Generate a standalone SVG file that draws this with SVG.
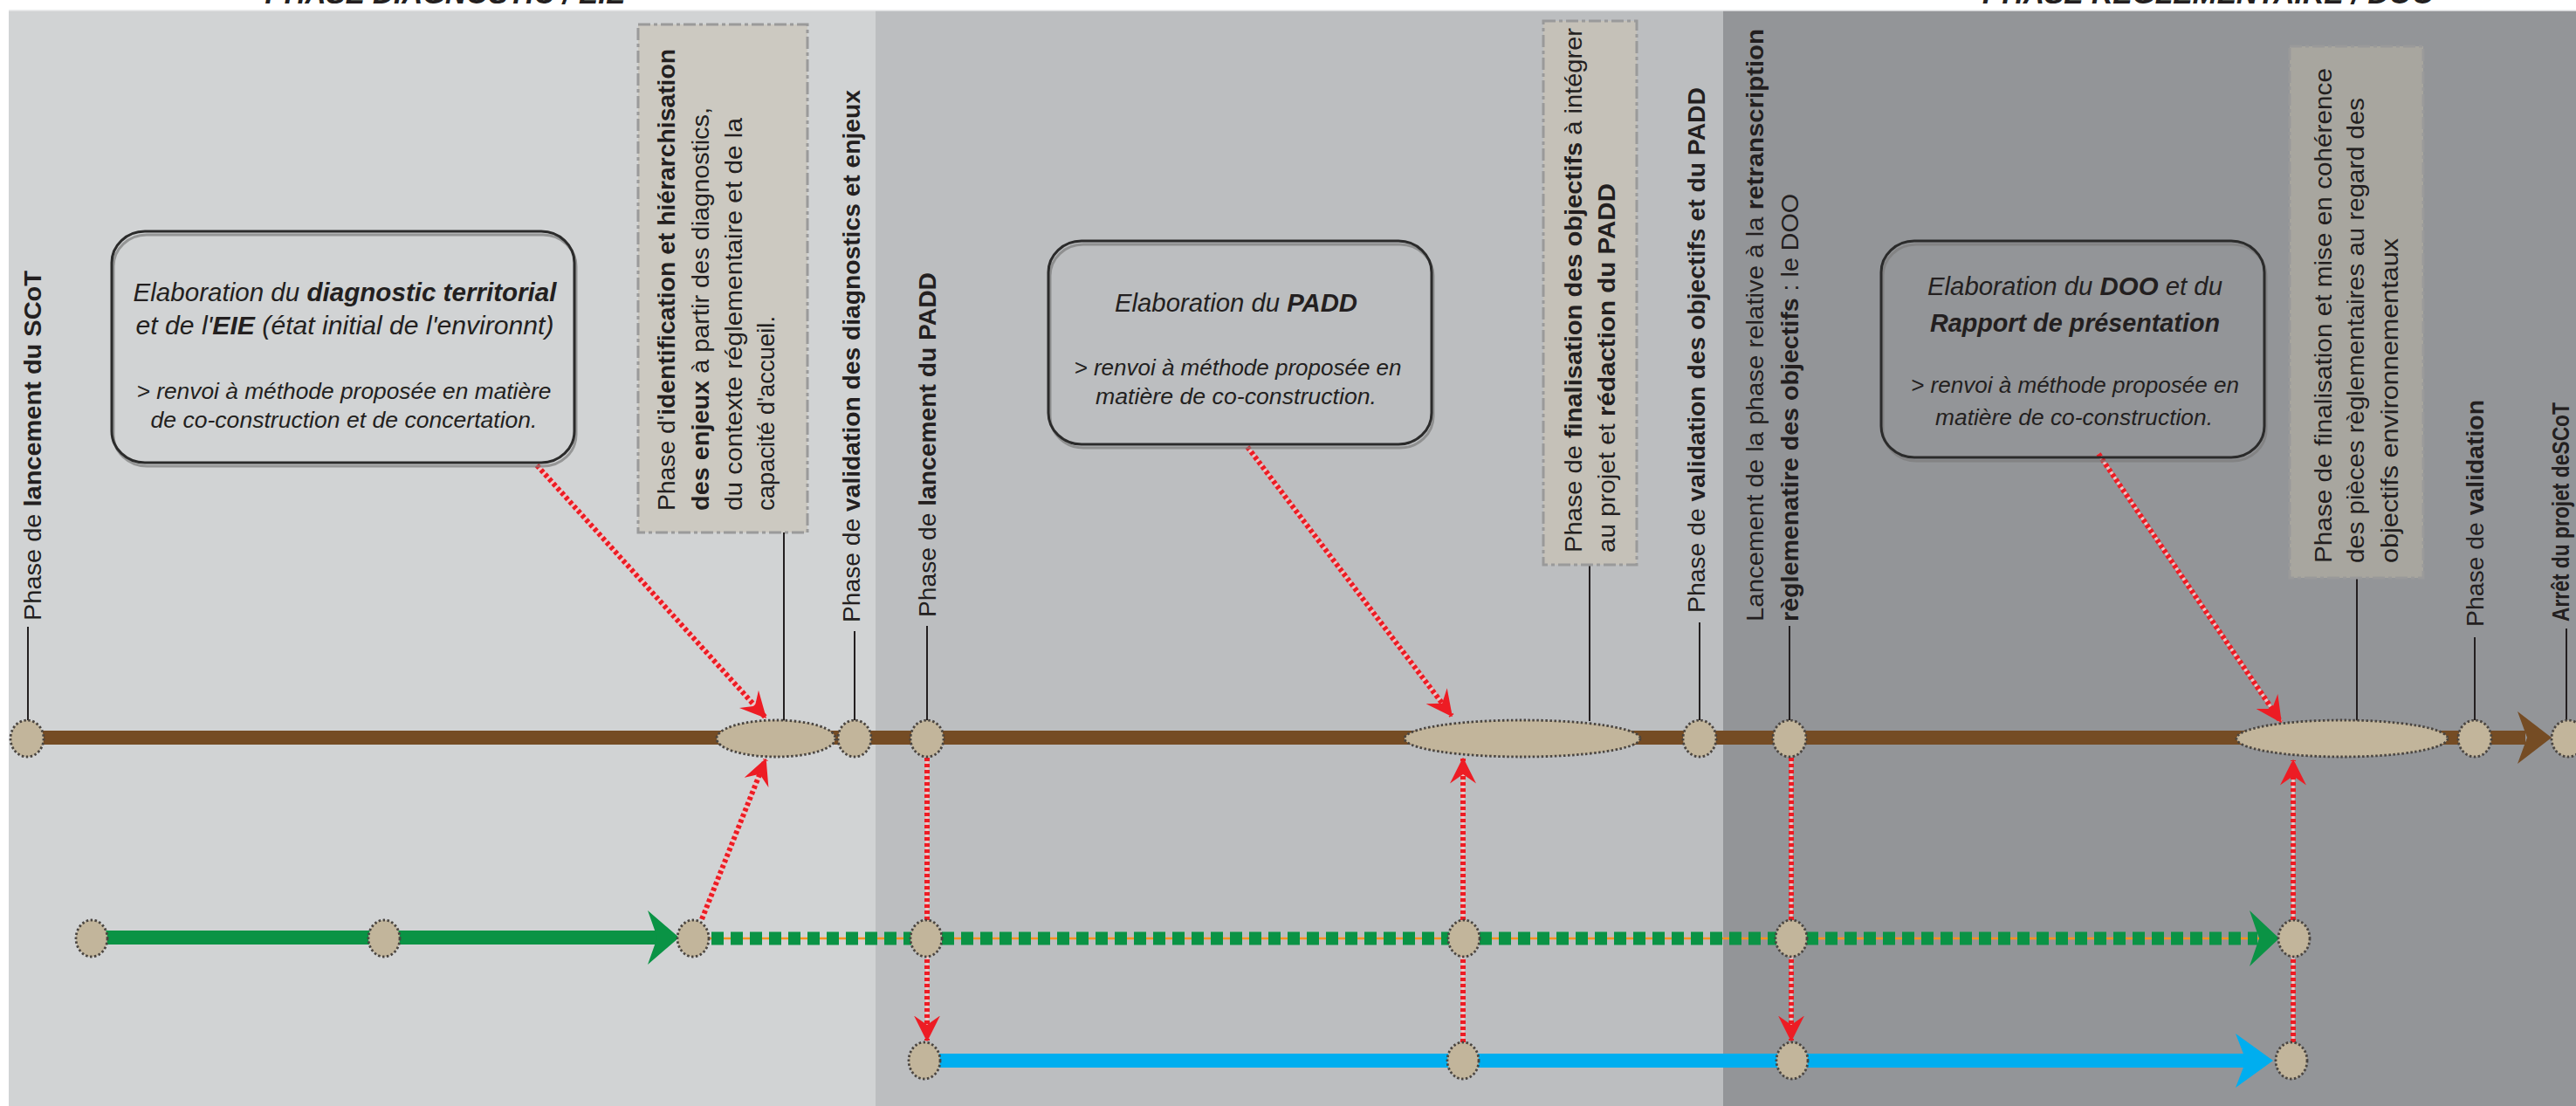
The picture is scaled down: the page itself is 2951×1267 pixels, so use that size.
<svg xmlns="http://www.w3.org/2000/svg" width="2951" height="1267" viewBox="0 0 2951 1267">
<style>
.lb{font-family:"Liberation Sans",Arial,sans-serif;font-size:28px;fill:#231f20}
.b{font-weight:bold}
.ct{font-family:"Liberation Sans",Arial,sans-serif;font-style:italic;fill:#231f20;text-anchor:middle}
.h1{font-size:29px}
.h2{font-size:26px}
.hd{font-family:"Liberation Sans",Arial,sans-serif;font-style:italic;font-weight:bold;font-size:34px;fill:#231f20;text-anchor:middle}
.nd{fill:#c2b59b;stroke:#4a4540;stroke-width:2.8;stroke-dasharray:2.5 2.5}
.ld{stroke:#231f20;stroke-width:2;fill:none}
.bx{stroke:#9a9a9a;stroke-width:3;stroke-dasharray:14 4 4 4}
.co{fill:none;stroke:#2b2b2b;stroke-width:3}
.cs{fill:none;stroke:#7c7c7c;stroke-width:3;opacity:0.7}
.rdu{stroke:#f7c3c4;stroke-width:3.5;fill:none}
.rd{stroke:#ed1c24;stroke-width:6;stroke-dasharray:4 3;fill:none;marker-end:url(#ar)}
</style>
<defs>
<marker id="ar" viewBox="0 0 20 20" refX="19" refY="10" markerWidth="30" markerHeight="30" markerUnits="userSpaceOnUse" orient="auto">
<path d="M0,0 L20,10 L0,20 L7,10 z" fill="#ed1c24"/>
</marker>
</defs>
<rect x="0" y="0" width="2951" height="1267" fill="#ffffff"/>
<g id="panels">
<rect x="10" y="12" width="993" height="1255" fill="#d1d3d4"/>
<rect x="1003" y="12" width="971" height="1255" fill="#bcbec0"/>
<rect x="1974" y="12" width="977" height="1255" fill="#939598"/>
<line x1="10" y1="12" x2="2951" y2="12" stroke="#e6e7e8" stroke-width="1.5"/>
</g>
<g id="headers">
<text class="hd" x="510" y="4" textLength="413" lengthAdjust="spacingAndGlyphs">PHASE DIAGNOSTIC / EIE</text>
<text class="hd" x="2530" y="4" textLength="518" lengthAdjust="spacingAndGlyphs">PHASE REGLEMENTAIRE / DOO</text>
</g>
<g id="connectors">
<line class="ld" x1="32" y1="718" x2="32" y2="826"/>
<line class="ld" x1="898" y1="610" x2="898" y2="826"/>
<line class="ld" x1="979" y1="723" x2="979" y2="826"/>
<line class="ld" x1="1062" y1="717" x2="1062" y2="826"/>
<line class="ld" x1="1821" y1="647" x2="1821" y2="826"/>
<line class="ld" x1="1947" y1="713" x2="1947" y2="826"/>
<line class="ld" x1="2050" y1="717" x2="2050" y2="826"/>
<line class="ld" x1="2700" y1="662" x2="2700" y2="826"/>
<line class="ld" x1="2835" y1="730" x2="2835" y2="826"/>
<line class="ld" x1="2940" y1="720" x2="2940" y2="826"/>
<line x1="31" y1="845" x2="2893" y2="845" stroke="#754c24" stroke-width="16"/>
<polygon points="2884,815 2923,845 2884,875 2895,845" fill="#754c24"/>
<line x1="105" y1="1074" x2="764" y2="1074" stroke="#0a9345" stroke-width="16"/>
<polygon points="742,1043 778,1074 742,1105 753,1074" fill="#0a9345"/>
<line x1="813" y1="1075" x2="2590" y2="1075" stroke="#f7941d" stroke-width="2.5"/>
<line x1="815" y1="1075" x2="2586" y2="1075" stroke="#0a9345" stroke-width="15" stroke-dasharray="14 8"/>
<polygon points="2577,1043 2611,1075 2577,1107 2588,1075" fill="#0a9345"/>
<line x1="1062" y1="1215" x2="2590" y2="1215" stroke="#00aeef" stroke-width="16"/>
<polygon points="2561,1184 2604,1215 2561,1246 2573,1215" fill="#00aeef"/>
<path class="rdu" d="M615,533 L877,822"/><path class="rd" d="M615,533 L877,822"/>
<path class="rdu" d="M1429,512 L1663,820"/><path class="rd" d="M1429,512 L1663,820"/>
<path class="rdu" d="M2404,520 L2613,827"/><path class="rd" d="M2404,520 L2613,827"/>
<path class="rdu" d="M804,1053 L877,870"/><path class="rd" d="M804,1053 L877,870"/>
<path class="rdu" d="M1062,868 L1062,1192"/><path class="rd" d="M1062,868 L1062,1192"/>
<path class="rdu" d="M1676,1194 L1676,869"/><path class="rd" d="M1676,1194 L1676,869"/>
<path class="rdu" d="M2052,868 L2052,1192"/><path class="rd" d="M2052,868 L2052,1192"/>
<path class="rdu" d="M2627,1194 L2627,871"/><path class="rd" d="M2627,1194 L2627,871"/>
</g>
<g id="main-nodes">
<ellipse id="n-lancement-scot" class="nd" cx="31" cy="846" rx="19" ry="21"/>
<ellipse id="n-ident" class="nd" cx="889" cy="846" rx="68" ry="21"/>
<ellipse id="n-valid-diag" class="nd" cx="979" cy="846" rx="19" ry="21"/>
<ellipse id="n-lancement-padd" class="nd" cx="1062" cy="846" rx="19" ry="21"/>
<ellipse id="n-final-padd" class="nd" cx="1744" cy="846" rx="135" ry="21"/>
<ellipse id="n-valid-padd" class="nd" cx="1947" cy="846" rx="19" ry="21"/>
<ellipse id="n-lancement-doo" class="nd" cx="2050" cy="846" rx="19" ry="21"/>
<ellipse id="n-final-doo" class="nd" cx="2683" cy="846" rx="121" ry="21"/>
<ellipse id="n-validation" class="nd" cx="2835" cy="846" rx="19" ry="21"/>
<ellipse id="n-arret" class="nd" cx="2942" cy="846" rx="19" ry="21"/>
</g>
<g id="green-nodes">
<ellipse class="nd" cx="105" cy="1075" rx="18" ry="21"/>
<ellipse class="nd" cx="440" cy="1075" rx="18" ry="21"/>
<ellipse class="nd" cx="794" cy="1075" rx="18" ry="21"/>
<ellipse class="nd" cx="1061" cy="1075" rx="18" ry="21"/>
<ellipse class="nd" cx="1677" cy="1075" rx="18" ry="21"/>
<ellipse class="nd" cx="2052" cy="1075" rx="18" ry="21"/>
<ellipse class="nd" cx="2628" cy="1075" rx="18" ry="21"/>
</g>
<g id="blue-nodes">
<ellipse class="nd" cx="1059" cy="1215" rx="18" ry="21"/>
<ellipse class="nd" cx="1676" cy="1215" rx="18" ry="21"/>
<ellipse class="nd" cx="2053" cy="1215" rx="18" ry="21"/>
<ellipse class="nd" cx="2625" cy="1215" rx="18" ry="21"/>
</g>
<g id="label-lancement-scot">
<text class="lb" transform="translate(47,711) rotate(-90)" textLength="401" lengthAdjust="spacingAndGlyphs">Phase de <tspan class="b">lancement du SCoT</tspan></text>
</g>
<g id="box-identification">
<rect class="bx" x="731" y="28" width="194" height="582" fill="#ccc9c1"/>
<text class="lb" transform="translate(773,585) rotate(-90)" textLength="529" lengthAdjust="spacingAndGlyphs">Phase d'<tspan class="b">identification et hiérarchisation</tspan></text>
<text class="lb" transform="translate(812,585) rotate(-90)" textLength="462" lengthAdjust="spacingAndGlyphs"><tspan class="b">des enjeux</tspan> à partir des diagnostics,</text>
<text class="lb" transform="translate(850,585) rotate(-90)" textLength="450" lengthAdjust="spacingAndGlyphs">du contexte réglementaire et de la</text>
<text class="lb" transform="translate(887,585) rotate(-90)" textLength="223" lengthAdjust="spacingAndGlyphs">capacité d'accueil.</text>
</g>
<g id="label-valid-diag">
<text class="lb" transform="translate(985,713) rotate(-90)" textLength="610" lengthAdjust="spacingAndGlyphs">Phase de <tspan class="b">validation des diagnostics et enjeux</tspan></text>
</g>
<g id="label-lancement-padd">
<text class="lb" transform="translate(1072,707) rotate(-90)" textLength="395" lengthAdjust="spacingAndGlyphs">Phase de <tspan class="b">lancement du PADD</tspan></text>
</g>
<g id="box-finalisation-padd">
<rect class="bx" x="1768" y="24" width="107" height="623" fill="#c5c1b8"/>
<text class="lb" transform="translate(1812,633) rotate(-90)" textLength="601" lengthAdjust="spacingAndGlyphs">Phase de <tspan class="b">finalisation des objectifs</tspan>  à intégrer</text>
<text class="lb" transform="translate(1850,633) rotate(-90)" textLength="423" lengthAdjust="spacingAndGlyphs">au projet et <tspan class="b">rédaction du PADD</tspan></text>
</g>
<g id="label-valid-padd">
<text class="lb" transform="translate(1953,702) rotate(-90)" textLength="602" lengthAdjust="spacingAndGlyphs">Phase de <tspan class="b">validation des objectifs et du PADD</tspan></text>
</g>
<g id="label-lancement-doo">
<text class="lb" transform="translate(2020,712) rotate(-90)" textLength="679" lengthAdjust="spacingAndGlyphs">Lancement de la phase relative à la <tspan class="b">retranscription</tspan></text>
<text class="lb" transform="translate(2060,712) rotate(-90)" textLength="490" lengthAdjust="spacingAndGlyphs"><tspan class="b">règlemenatire des objectifs</tspan> : le DOO</text>
</g>
<g id="box-finalisation-doo">
<rect class="bx" x="2623" y="53" width="153" height="609" fill="#a8a69f"/>
<text class="lb" transform="translate(2671,645) rotate(-90)" textLength="567" lengthAdjust="spacingAndGlyphs">Phase de finalisation et mise en cohérence</text>
<text class="lb" transform="translate(2708,645) rotate(-90)" textLength="533" lengthAdjust="spacingAndGlyphs">des pièces règlementaires au regard des</text>
<text class="lb" transform="translate(2747,645) rotate(-90)" textLength="372" lengthAdjust="spacingAndGlyphs">objectifs environnementaux</text>
</g>
<g id="label-validation">
<text class="lb" transform="translate(2845,718) rotate(-90)" textLength="260" lengthAdjust="spacingAndGlyphs">Phase de <tspan class="b">validation</tspan></text>
</g>
<g id="label-arret">
<text class="lb b" transform="translate(2943,712) rotate(-90)" textLength="251" lengthAdjust="spacingAndGlyphs">Arrêt du projet deSCoT</text>
</g>
<g id="callout-diagnostic">
<rect class="cs" x="130" y="269" width="530" height="265" rx="38" ry="36"/>
<rect class="co" x="128" y="265" width="530" height="265" rx="38" ry="36"/>
<text class="ct h1" x="395" y="345" textLength="485" lengthAdjust="spacingAndGlyphs">Elaboration du <tspan class="b">diagnostic territorial</tspan></text>
<text class="ct h1" x="395" y="383" textLength="479" lengthAdjust="spacingAndGlyphs">et de l'<tspan class="b">EIE</tspan> (état initial de l'environnt)</text>
<text class="ct h2" x="394" y="457" textLength="475" lengthAdjust="spacingAndGlyphs">&gt; renvoi à méthode proposée en matière</text>
<text class="ct h2" x="394" y="490" textLength="443" lengthAdjust="spacingAndGlyphs">de co-construction et de concertation.</text>
</g>
<g id="callout-padd">
<rect class="cs" x="1203" y="280" width="439" height="233" rx="38" ry="36"/>
<rect class="co" x="1201" y="276" width="439" height="233" rx="38" ry="36"/>
<text class="ct h1" x="1416" y="357" textLength="278" lengthAdjust="spacingAndGlyphs">Elaboration du <tspan class="b">PADD</tspan></text>
<text class="ct h2" x="1418" y="430" textLength="375" lengthAdjust="spacingAndGlyphs">&gt; renvoi à méthode proposée en</text>
<text class="ct h2" x="1416" y="463" textLength="322" lengthAdjust="spacingAndGlyphs">matière de co-construction.</text>
</g>
<g id="callout-doo">
<rect class="cs" x="2157" y="280" width="439" height="248" rx="38" ry="36"/>
<rect class="co" x="2155" y="276" width="439" height="248" rx="38" ry="36"/>
<text class="ct h1" x="2377" y="338" textLength="338" lengthAdjust="spacingAndGlyphs">Elaboration du <tspan class="b">DOO</tspan> et du</text>
<text class="ct h1 b" x="2377" y="380" textLength="332" lengthAdjust="spacingAndGlyphs">Rapport de présentation</text>
<text class="ct h2" x="2377" y="450" textLength="376" lengthAdjust="spacingAndGlyphs">&gt; renvoi à méthode proposée en</text>
<text class="ct h2" x="2376" y="487" textLength="318" lengthAdjust="spacingAndGlyphs">matière de co-construction.</text>
</g>
</svg>
